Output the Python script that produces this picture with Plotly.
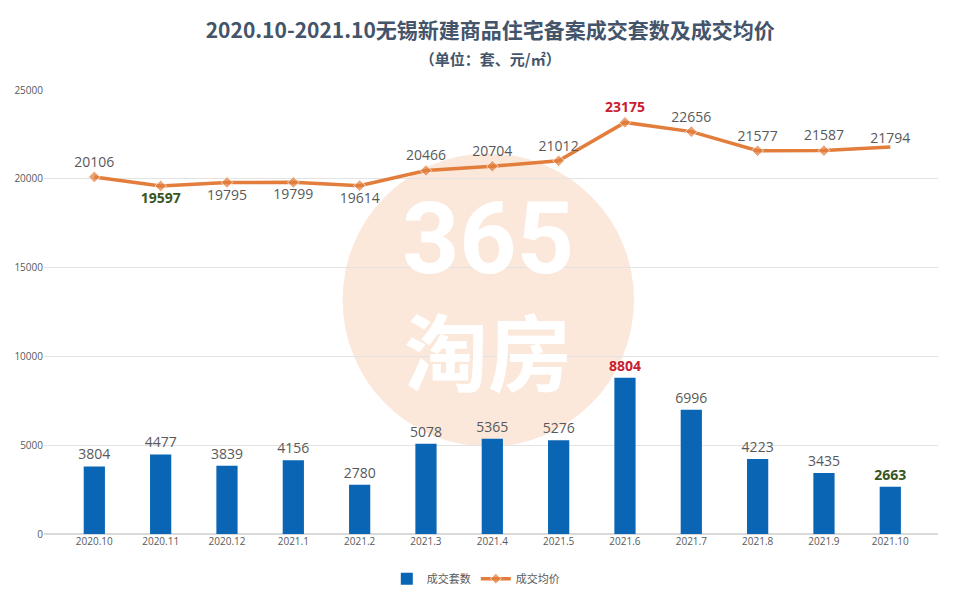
import plotly.graph_objects as go

months = ["2020.10", "2020.11", "2020.12", "2021.1", "2021.2", "2021.3", "2021.4",
          "2021.5", "2021.6", "2021.7", "2021.8", "2021.9", "2021.10"]
units = [3804, 4477, 3839, 4156, 2780, 5078, 5365, 5276, 8804, 6996, 4223, 3435, 2663]
prices = [20106, 19597, 19795, 19799, 19614, 20466, 20704, 21012, 23175, 22656, 21577, 21587, 21794]
y_ticks = [0, 5000, 10000, 15000, 20000, 25000]

RED = "#c8202f"
GREEN = "#375623"
GRAY = "#595959"

def label_style(vals):
    hi, lo = max(vals), min(vals)
    texts, colors = [], []
    for v in vals:
        if v == hi:
            texts.append(f"<b>{v}</b>"); colors.append(RED)
        elif v == lo:
            texts.append(f"<b>{v}</b>"); colors.append(GREEN)
        else:
            texts.append(str(v)); colors.append(GRAY)
    return texts, colors

bar_text, bar_colors = label_style(units)
line_text, line_colors = label_style(prices)
line_pos = ["top center", "bottom center", "bottom center", "bottom center", "bottom center",
            "top center", "top center", "top center", "top center", "top center",
            "top center", "top center", "top center"]
marker_sizes = [9] * (len(prices) - 1) + [0]

fig = go.Figure()
fig.add_trace(go.Bar(
    x=months, y=units, name="成交套数",
    marker=dict(color="#0a66b4", line=dict(width=0)),
    width=0.32,
    text=bar_text, textposition="outside", cliponaxis=False, constraintext="none",
    textfont=dict(size=14, color=bar_colors, family="Open Sans, sans-serif"),
))
fig.add_trace(go.Scatter(
    x=months, y=prices, name="成交均价", mode="lines+markers+text",
    line=dict(color="#e27d3c", width=3.5),
    marker=dict(symbol="diamond", size=marker_sizes, color="#e27d3c"),
    text=line_text, textposition=line_pos, cliponaxis=False,
    textfont=dict(size=14, color=line_colors, family="Open Sans, sans-serif"),
))

# watermark
fig.add_shape(type="circle", xref="paper", yref="paper",
              x0=0.497 - 0.163, x1=0.497 + 0.163, y0=0.527 - 0.33, y1=0.527 + 0.33,
              fillcolor="rgba(240,160,100,0.24)", line=dict(width=0), layer="below")
fig.add_annotation(xref="paper", yref="paper", x=0.497, y=0.54,
                   text="<span style='font-size:100px;font-family:Roboto'><b>365</b></span><br>"
                        "<span style='font-size:84px'><b>淘房</b></span>",
                   showarrow=False,
                   font=dict(size=86, color="white", family="Noto Sans CJK SC"))

fig.update_layout(
    width=955, height=600,
    margin=dict(l=36, r=25, t=82, b=74, autoexpand=False),
    paper_bgcolor="white", plot_bgcolor="white",
    title=dict(
        text="<b>2020.10-2021.10无锡新建商品住宅备案成交套数及成交均价</b><br>"
             "<span style='font-size:15px'><b>（单位：套、元/㎡）</b></span>",
        x=0.505, xanchor="center", y=0.95, yanchor="top",
        font=dict(size=21, color="#44546a", family="Noto Sans CJK SC"),
    ),
    xaxis=dict(showgrid=False, showline=False, ticks="", automargin=False,
               tickfont=dict(size=10, color=GRAY, family="Open Sans, sans-serif")),
    yaxis=dict(range=[0, 25000], tickvals=y_ticks, ticktext=[str(t) for t in y_ticks],
               showgrid=True, gridcolor="#e3e3e3", automargin=False,
               gridwidth=1, zeroline=True, zerolinecolor="#d9d9d9", ticks="",
               tickfont=dict(size=10, color=GRAY, family="Open Sans, sans-serif")),
    legend=dict(orientation="h", x=0.483, xanchor="center", y=-0.068, yanchor="top",
                font=dict(size=11, color=GRAY, family="Noto Sans CJK SC"),
                itemwidth=30, tracegroupgap=0),
    showlegend=True,
    bargap=0.68,
)
fig.write_html("out.html")
